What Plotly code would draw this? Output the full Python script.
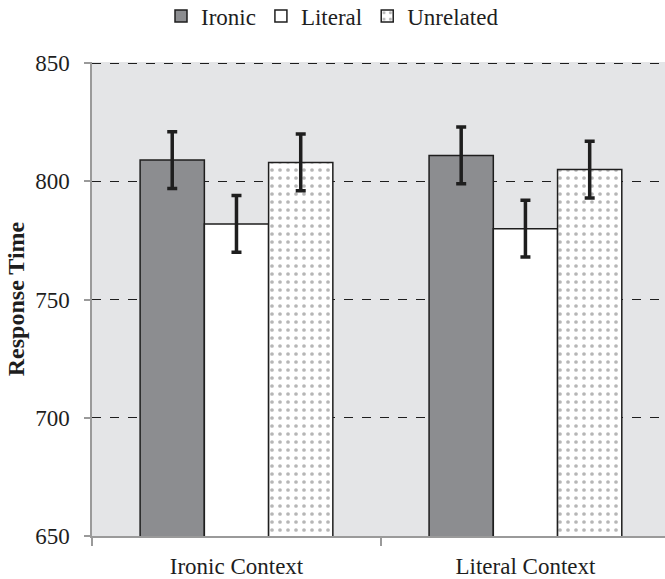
import plotly.graph_objects as go

categories = ["Ironic Context", "Literal Context"]
series_names = ["Ironic", "Literal", "Unrelated"]
ironic_vals = [809, 811]
literal_vals = [782, 780]
unrelated_vals = [808, 805]
ironic_err = [12, 12]
literal_err = [12, 12]
unrelated_err = [12, 12]
y_ticks = [650, 700, 750, 800, 850]

values = [ironic_vals, literal_vals, unrelated_vals]
errors = [ironic_err, literal_err, unrelated_err]
fills = ["#8c8d90", "#ffffff", "#ffffff"]

FONT = "Liberation Serif, Times New Roman, DejaVu Serif, serif"

fig = go.Figure()
for i, name in enumerate(series_names):
    marker = dict(color=fills[i], line=dict(color="#1e1e1e", width=1.5))
    if name == "Unrelated":
        marker["pattern"] = dict(shape=".", fgcolor="#6e6e6e", bgcolor="#ffffff",
                                 size=8, solidity=0.17, fillmode="overlay")
    fig.add_trace(go.Bar(
        x=categories, y=values[i], name=name, marker=marker,
        error_y=dict(type="data", array=errors[i], visible=True,
                     color="#1e1e1e", thickness=3.5, width=5),
    ))

fig.update_layout(
    width=665, height=579,
    margin=dict(l=92, r=0, t=62, b=43, autoexpand=False),
    barmode="group", bargap=0.333, bargroupgap=0,
    plot_bgcolor="#e4e5e7", paper_bgcolor="#ffffff",
    font=dict(family=FONT, size=23, color="#1e1e1e"),
    legend=dict(orientation="h", xref="container", yref="paper",
                x=0.5, xanchor="center", y=1.097, yanchor="middle",
                font=dict(family=FONT, size=23), itemwidth=30, traceorder="normal",
                tracegroupgap=0),
    showlegend=True,
)
fig.update_xaxes(
    range=[-0.5, 1.483], showline=True, linecolor="#9a9a9a", linewidth=1.5,
    ticks="outside", tickson="boundaries", ticklen=8, tickcolor="#9a9a9a",
    tickwidth=1.5, showgrid=False, ticklabelstandoff=9, automargin=False,
    tickfont=dict(family=FONT, size=23),
)
fig.update_yaxes(
    range=[650, 850.5], tickvals=y_ticks, showline=True, linecolor="#9a9a9a",
    linewidth=1.5, ticks="outside", ticklen=6, tickcolor="#9a9a9a", tickwidth=1.5,
    showgrid=True, gridcolor="#1e1e1e", griddash="dash", gridwidth=1.2,
    zeroline=False, ticklabelstandoff=10, automargin=False,
    tickfont=dict(family=FONT, size=23),
    title=dict(text="<b>Response Time</b>", font=dict(family=FONT, size=24), standoff=4),
)

fig.write_html("out.html", config={"displayModeBar": False},
               post_script="document.body.style.margin='0px';")
